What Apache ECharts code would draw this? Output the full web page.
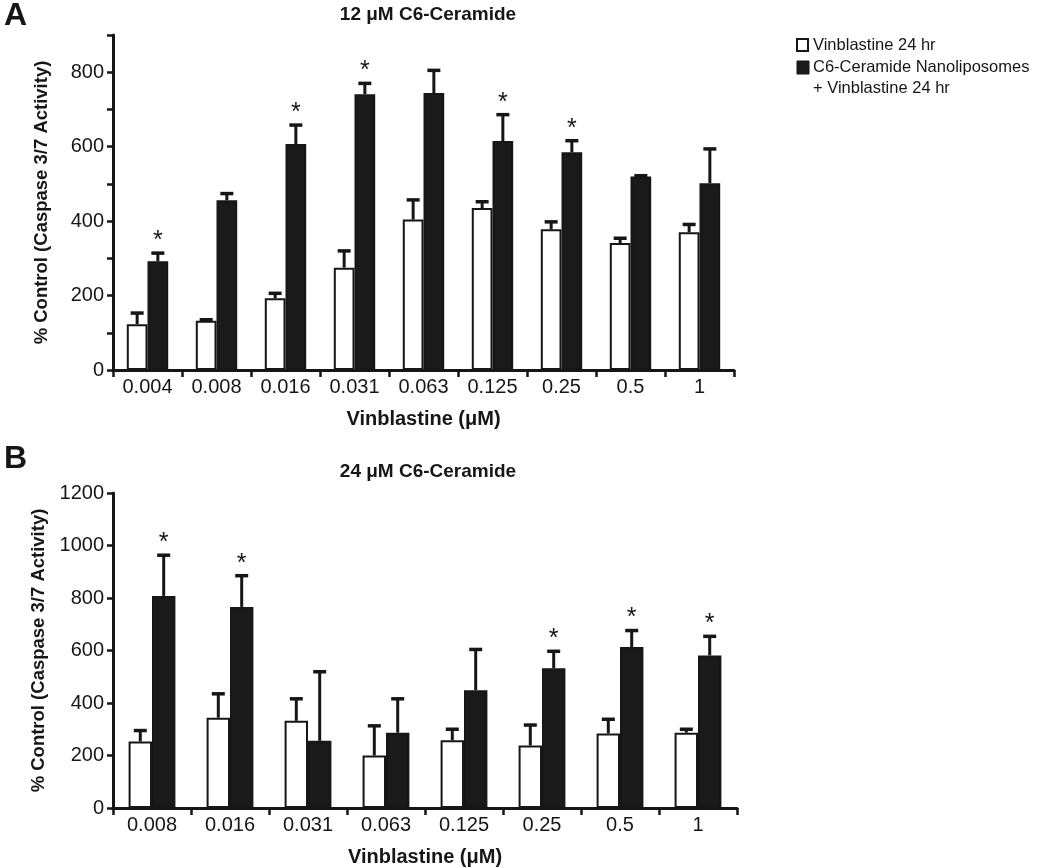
<!DOCTYPE html>
<html>
<head>
<meta charset="utf-8">
<script src="https://cdn.jsdelivr.net/npm/echarts@6/dist/echarts.min.js"></script>
<style>
html,body{margin:0;padding:0;background:#fff;}
#main{width:1050px;height:868px;}
</style>
</head>
<body>
<div id="main"></div>
<script>
// ---- Data ----
const categoriesA = ['0.004','0.008','0.016','0.031','0.063','0.125','0.25','0.5','1'];
const vinA      = [123, 132, 193, 275, 404, 435, 378, 341, 370];
const vinSemA   = [ 30,   3,  13,  45,  53,  17,  20,  13,  21];
const combA     = [292, 456, 607, 741, 744, 615, 585, 520, 502];
const combSemA  = [ 22,  18,  51,  29,  61,  71,  31,   2,  92];
const starsA    = [  1,   0,   1,   1,   0,   1,   1,   0,   0];

const categoriesB = ['0.008','0.016','0.031','0.063','0.125','0.25','0.5','1'];
const vinB      = [253, 344, 332, 200, 258, 238, 284, 287];
const vinSemB   = [ 42,  91,  84, 113,  42,  78,  54,  13];
const combB     = [808, 766, 256, 287, 449, 532, 613, 581];
const combSemB  = [155, 119, 263, 129, 155,  65,  63,  73];
const starsB    = [  1,   1,   0,   0,   0,   1,   1,   1];

const seriesNames = ['Vinblastine 24 hr', 'C6-Ceramide Nanoliposomes\n+ Vinblastine 24 hr'];
const titleA = '12 \u03bcM C6-Ceramide';
const titleB = '24 \u03bcM C6-Ceramide';
const yName = '% Control (Caspase 3/7 Activity)';
const xName = 'Vinblastine (\u03bcM)';

// ---- Chart ----
const INK = '#161616';
const FONT = 'Liberation Sans, Arial, sans-serif';
const chart = echarts.init(document.getElementById('main'), null, {renderer: 'canvas'});

function errData(vals, sems, side, stars) {
  return vals.map((v, i) => [i, v, sems[i], side, stars ? stars[i] : 0]);
}
function errRender(params, api) {
  const cat = api.value(0), val = api.value(1), err = api.value(2), side = api.value(3), star = api.value(4);
  const base = api.coord([cat, val]);
  const top = api.coord([cat, val + err]);
  const w = api.size([1, 0])[0];
  const x = base[0] + side * w * 0.15;
  const children = [
    {type: 'line', shape: {x1: x, y1: base[1], x2: x, y2: top[1]}, style: {stroke: INK, lineWidth: 3}},
    {type: 'line', shape: {x1: x - 6.5, y1: top[1], x2: x + 6.5, y2: top[1]}, style: {stroke: INK, lineWidth: 3.5}}
  ];
  if (star) {
    children.push({type: 'text', style: {text: '*', x: x, y: top[1] - 12, align: 'center', verticalAlign: 'middle',
      font: '25px ' + FONT, fill: INK}});
  }
  return {type: 'group', children: children};
}

const axisLine = {show: true, lineStyle: {color: INK, width: 3}};
const axisTick = {show: true, length: 6, lineStyle: {color: INK, width: 2.5}};
const labelStyle = {color: INK, fontSize: 20, fontFamily: FONT};
const nameStyleY = {color: INK, fontSize: 18.5, fontWeight: 'bold', fontFamily: FONT};
const nameStyleX = {color: INK, fontSize: 20, fontWeight: 'bold', fontFamily: FONT};

function xAxis(gi, cats) {
  return {
    type: 'category', gridIndex: gi, data: cats,
    axisLine: axisLine, axisTick: {show: true, length: 7, alignWithLabel: false, lineStyle: {color: INK, width: 2.5}},
    axisLabel: Object.assign({margin: 7}, labelStyle),
    name: xName, nameLocation: 'middle', nameGap: 39, nameTextStyle: nameStyleX,
    splitLine: {show: false}
  };
}
function yAxis(gi, max, interval, fmt) {
  return {
    type: 'value', gridIndex: gi, min: 0, max: max, interval: interval,
    axisLine: axisLine, axisTick: axisTick,
    axisLabel: Object.assign({margin: 9, formatter: fmt}, labelStyle),
    name: yName, nameLocation: 'middle', nameGap: 62, nameTextStyle: nameStyleY,
    splitLine: {show: false}
  };
}

const barWhite = {color: '#ffffff', borderColor: INK, borderWidth: 2};
const barBlack = {color: '#1a1a1a', borderColor: INK, borderWidth: 2};

const option = {
  animation: false,
  backgroundColor: '#ffffff',
  textStyle: {fontFamily: FONT},
  title: [
    {text: titleA, left: 423, top: 0, textAlign: 'center', textStyle: {color: INK, fontSize: 19, fontWeight: 'bold', fontFamily: FONT}},
    {text: titleB, left: 423, top: 457, textAlign: 'center', textStyle: {color: INK, fontSize: 19, fontWeight: 'bold', fontFamily: FONT}}
  ],
  grid: [
    {left: 113, right: 316, top: 35, bottom: 498, containLabel: false},
    {left: 113, right: 313, top: 493, bottom: 56, containLabel: false}
  ],
  xAxis: [xAxis(0, categoriesA), xAxis(1, categoriesB)],
  yAxis: [
    yAxis(0, 900, 100, v => (v % 200 === 0 ? String(v) : '')),
    yAxis(1, 1200, 200, v => String(v))
  ],
  series: [
    {name: seriesNames[0], type: 'bar', xAxisIndex: 0, yAxisIndex: 0, data: vinA, itemStyle: barWhite, barGap: '0%', barCategoryGap: '40%'},
    {name: seriesNames[1], type: 'bar', xAxisIndex: 0, yAxisIndex: 0, data: combA, itemStyle: barBlack, barGap: '0%', barCategoryGap: '40%'},
    {name: seriesNames[0], type: 'bar', xAxisIndex: 1, yAxisIndex: 1, data: vinB, itemStyle: barWhite, barGap: '0%', barCategoryGap: '40%'},
    {name: seriesNames[1], type: 'bar', xAxisIndex: 1, yAxisIndex: 1, data: combB, itemStyle: barBlack, barGap: '0%', barCategoryGap: '40%'},
    {type: 'custom', xAxisIndex: 0, yAxisIndex: 0, renderItem: errRender, data: errData(vinA, vinSemA, -1, null), z: 5},
    {type: 'custom', xAxisIndex: 0, yAxisIndex: 0, renderItem: errRender, data: errData(combA, combSemA, 1, starsA), z: 5},
    {type: 'custom', xAxisIndex: 1, yAxisIndex: 1, renderItem: errRender, data: errData(vinB, vinSemB, -1, null), z: 5},
    {type: 'custom', xAxisIndex: 1, yAxisIndex: 1, renderItem: errRender, data: errData(combB, combSemB, 1, starsB), z: 5}
  ],
  graphic: [
    {type: 'text', left: 4, top: 0, style: {text: 'A', font: 'bold 32px ' + FONT, fill: INK}},
    {type: 'text', left: 4, top: 443, style: {text: 'B', font: 'bold 32px ' + FONT, fill: INK}},
    {type: 'rect', shape: {x: 797, y: 39, width: 11, height: 12}, style: {fill: '#fff', stroke: INK, lineWidth: 2}},
    {type: 'text', x: 813, y: 45, style: {text: seriesNames[0], font: '16.5px ' + FONT, fill: INK, verticalAlign: 'middle'}},
    {type: 'rect', shape: {x: 797, y: 61, width: 12, height: 13}, style: {fill: '#1a1a1a', stroke: INK, lineWidth: 1}},
    {type: 'text', x: 813, y: 57, style: {text: seriesNames[1], font: '16.5px ' + FONT, fill: INK, verticalAlign: 'top', lineHeight: 21}}
  ]
};
chart.setOption(option);
</script>
</body>
</html>
